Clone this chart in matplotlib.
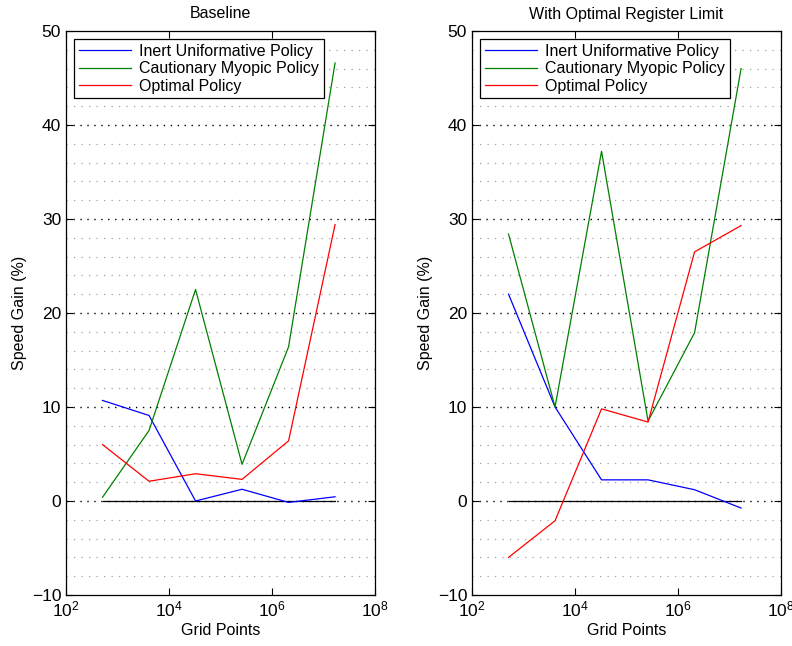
import numpy as np
import matplotlib.pyplot as plt
from matplotlib.ticker import FixedLocator, NullLocator, LogFormatterMathtext

plt.rcParams['font.family'] = ['Liberation Sans', 'DejaVu Sans']
plt.rcParams['mathtext.fontset'] = 'custom'
plt.rcParams['mathtext.rm'] = 'Liberation Sans'
plt.rcParams['mathtext.it'] = 'Liberation Sans'

grid_points = [512, 4096, 32768, 262144, 2097152, 16777216]
labels = ["Inert Uniformative Policy", "Cautionary Myopic Policy", "Optimal Policy"]
colors = ["#0000ff", "#008000", "#ff0000"]

baseline_inert = [10.7, 9.1, 0.0, 1.25, -0.15, 0.45]
baseline_cautionary = [0.4, 7.5, 22.5, 3.9, 16.4, 46.6]
baseline_optimal = [6.0, 2.1, 2.9, 2.3, 6.4, 29.4]

limit_inert = [22.0, 10.0, 2.25, 2.25, 1.2, -0.75]
limit_cautionary = [28.4, 10.0, 37.2, 8.5, 17.9, 46.0]
limit_optimal = [-6.0, -2.1, 9.8, 8.4, 26.5, 29.3]

panels = [("Baseline", [baseline_inert, baseline_cautionary, baseline_optimal]),
          ("With Optimal Register Limit", [limit_inert, limit_cautionary, limit_optimal])]

fig = plt.figure(figsize=(7.92, 6.46), dpi=100)
W, H = 792, 646
lefts = [66, 472]
for (title, series), left in zip(panels, lefts):
    ax = fig.add_axes([left / W, (H - 595) / H, 309 / W, 564 / H])
    # light minor grid every 2 units
    for y in np.arange(-8, 50, 2):
        if y % 10 != 0:
            ax.axhline(y, color="#a0a0a0", linestyle=(0, (1, 5)), linewidth=0.9, zorder=0)
    for y in np.arange(0, 50, 10):
        ax.axhline(y, color="black", linestyle=(0, (1, 4)), linewidth=1.0, zorder=0)
    ax.plot([grid_points[0], grid_points[-1]], [0, 0], color="black", linewidth=0.9, zorder=1)
    for vals, lab, c in zip(series, labels, colors):
        ax.plot(grid_points, vals, color=c, linewidth=0.9, label=lab, zorder=2)
    ax.set_xscale("log")
    ax.set_xlim(1e2, 1e8)
    ax.set_ylim(-10, 50)
    ax.xaxis.set_major_locator(FixedLocator([1e2, 1e4, 1e6, 1e8]))
    ax.xaxis.set_major_formatter(LogFormatterMathtext())
    ax.xaxis.set_minor_locator(NullLocator())
    ax.set_yticks(np.arange(-10, 51, 10))
    ax.tick_params(direction="in", top=True, right=True, labelsize=12.5, length=5, width=0.8)
    for s in ax.spines.values():
        s.set_linewidth(0.9)
    ax.set_title(title, fontsize=11.5, pad=9)
    ax.set_xlabel("Grid Points", fontsize=11.5, labelpad=2)
    ax.set_ylabel("Speed Gain (%)", fontsize=11.5, labelpad=3)
    leg = ax.legend(loc="upper left", fontsize=11.5, handlelength=3.3, fancybox=False,
                    framealpha=1, edgecolor="black", borderpad=0.3, labelspacing=0.15,
                    borderaxespad=0.5, handletextpad=0.5)
    leg.get_frame().set_linewidth(0.9)

fig.savefig("out.png", dpi=100)
